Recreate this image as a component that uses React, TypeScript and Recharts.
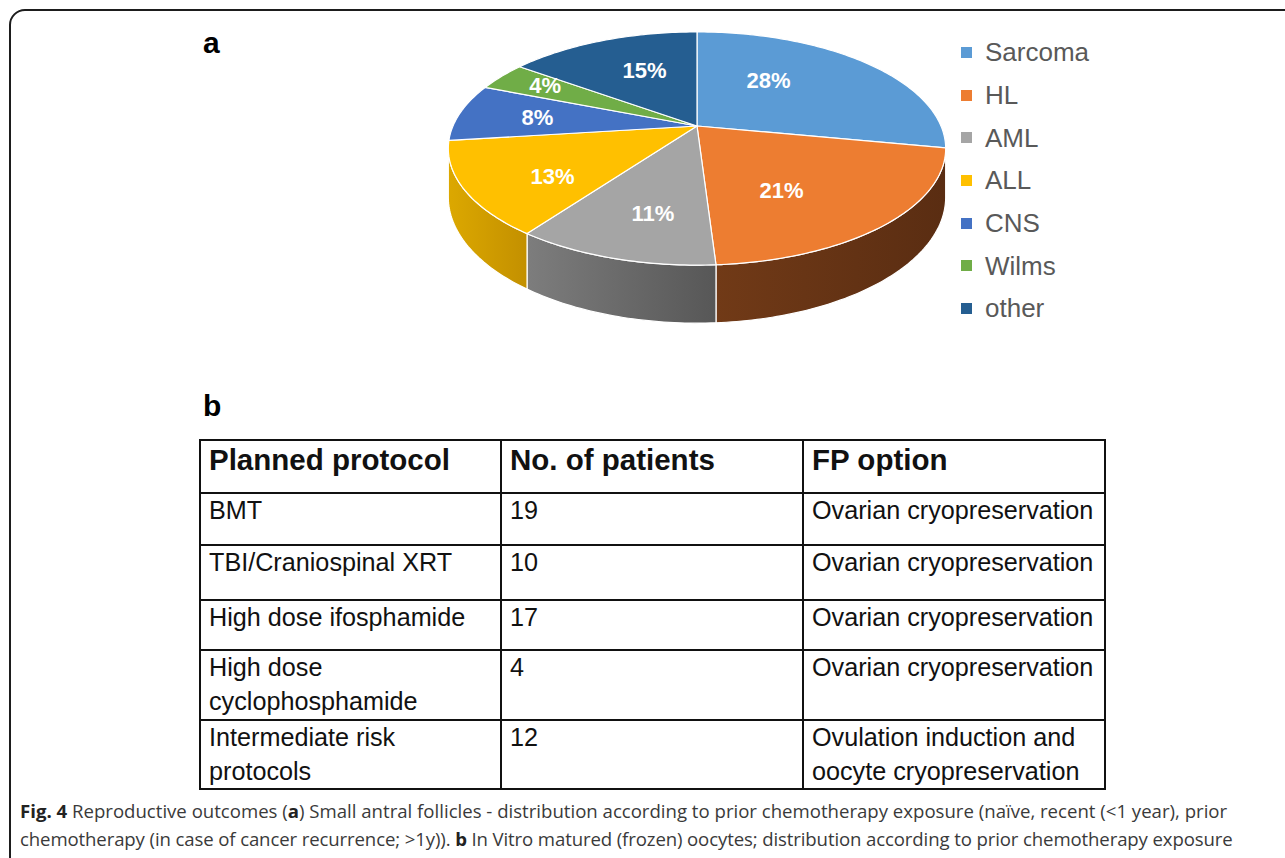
import React from 'react'
import { Cell, Legend, Pie, PieChart } from 'recharts'

// pie "a": share of patients by diagnosis (%)
const CATEGORIES = ['Sarcoma', 'HL', 'AML', 'ALL', 'CNS', 'Wilms', 'other']
const SHARES = [28, 21, 11, 13, 8, 4, 15]

// table "b"
const PROTOCOLS = [
  ['BMT'],
  ['TBI/Craniospinal XRT'],
  ['High dose ifosphamide'],
  ['High dose', 'cyclophosphamide'],
  ['Intermediate risk', 'protocols'],
]
const PATIENTS = [19, 10, 17, 4, 12]
const FP_OPTIONS = [
  ['Ovarian cryopreservation'],
  ['Ovarian cryopreservation'],
  ['Ovarian cryopreservation'],
  ['Ovarian cryopreservation'],
  ['Ovulation induction and', 'oocyte cryopreservation'],
]
const TABLE_HEAD = ['Planned protocol', 'No. of patients', 'FP option']

const TOP_COLORS = ['#5B9BD5', '#ED7D31', '#A5A5A5', '#FFC000', '#4472C4', '#70AD47', '#255E91']
const SIDE_COLORS: [string, string][] = [
  ['#3d6f9e', '#2f5a82'],
  ['#713a17', '#5a2d12'],
  ['#7d7d7d', '#575757'],
  ['#dca800', '#c39000'],
  ['#2f5596', '#244377'],
  ['#4f7d32', '#3e6428'],
  ['#1a4266', '#143453'],
]
// label placement tweaks (radius on the disk, angle shift in degrees), like Excel's best fit
const LABEL_FIT: [number, number][] = [
  [0.55, 15],
  [0.6, -10],
  [0.69, 3],
  [0.68, 6],
  [0.67, 0],
  [0.78, -2],
  [0.61, -4],
]

const pieData = CATEGORIES.map((name, i) => ({ name, value: SHARES[i] }))

const FONT = "'Liberation Sans', Arial, Helvetica, sans-serif"
const CX = 697
const CY = 126
const RADIUS = 244
const PERSPECTIVE = 0.193
const RY_RATIO = 0.46
const DEPTH_RATIO = 0.192
const RAD = Math.PI / 180

// perspective projection of a point on the (tilted) pie disk
function project(cx: number, cy: number, R: number, deg: number, r = 1) {
  const u = Math.cos(deg * RAD) * r
  const v = Math.sin(deg * RAD) * r
  const w = 1 + PERSPECTIVE * v
  return { x: cx + (R * u) / w, y: cy - (R * RY_RATIO * v) / w, w }
}

function arcPoints(cx: number, cy: number, R: number, from: number, to: number) {
  const pts = []
  const n = Math.max(2, Math.ceil(Math.abs(to - from)))
  for (let i = 0; i <= n; i++) pts.push(project(cx, cy, R, from + ((to - from) * i) / n))
  return pts
}

const sliceIndex = (props: any) => Math.max(0, CATEGORIES.indexOf(props.payload?.name ?? props.name))

const renderSlice = (props: any) => {
  const { cx, cy, outerRadius, startAngle, endAngle, fill } = props
  const idx = sliceIndex(props)
  const R = outerRadius
  const depth = R * DEPTH_RATIO
  const edge = Math.asin(PERSPECTIVE) / RAD
  const hi = Math.min(startAngle, -edge)
  const lo = Math.max(endAngle, -180 + edge)

  const top = arcPoints(cx, cy, R, startAngle, endAngle)
  const topPath =
    `M${cx},${cy} ` + top.map((p) => `L${p.x.toFixed(2)},${p.y.toFixed(2)}`).join(' ') + ' Z'

  let wallPath = ''
  if (lo < hi) {
    const rim = arcPoints(cx, cy, R, hi, lo)
    const bottom = rim
      .slice()
      .reverse()
      .map((p) => ({ x: p.x, y: p.y + depth / p.w }))
    wallPath =
      rim.map((p, i) => `${i ? 'L' : 'M'}${p.x.toFixed(2)},${p.y.toFixed(2)}`).join(' ') +
      ' ' +
      bottom.map((p) => `L${p.x.toFixed(2)},${p.y.toFixed(2)}`).join(' ') +
      ' Z'
  }
  const gid = `pie-side-${idx}`
  return (
    <g>
      <defs>
        <linearGradient id={gid} x1="0" y1="0" x2="1" y2="0">
          <stop offset="0%" stopColor={SIDE_COLORS[idx][0]} />
          <stop offset="100%" stopColor={SIDE_COLORS[idx][1]} />
        </linearGradient>
      </defs>
      {wallPath && <path d={wallPath} fill={`url(#${gid})`} stroke="#ffffff" strokeWidth={1.2} />}
      <path d={topPath} fill={fill} stroke="#ffffff" strokeWidth={1.2} strokeLinejoin="round" />
    </g>
  )
}

const renderLabel = (props: any) => {
  const { cx, cy, outerRadius, midAngle, percent } = props
  const [r, shift] = LABEL_FIT[sliceIndex(props)]
  const p = project(cx, cy, outerRadius, midAngle + shift, r)
  return (
    <text
      x={p.x}
      y={p.y + 1}
      fill="#ffffff"
      textAnchor="middle"
      dominantBaseline="central"
      style={{ fontFamily: FONT, fontSize: 22, fontWeight: 700 }}
    >
      {`${Math.round(percent * 100)}%`}
    </text>
  )
}

const renderLegend = (props: any) => {
  const payload = (props.payload ?? [])
    .slice()
    .sort((a: any, b: any) => CATEGORIES.indexOf(a.value) - CATEGORIES.indexOf(b.value))
  return (
    <div style={{ fontFamily: FONT }}>
      {payload.map((entry: any, i: number) => (
        <div key={i} style={{ display: 'flex', alignItems: 'center', height: 42.7 }}>
          <span style={{ width: 11, height: 11, background: entry.color, marginRight: 13, flexShrink: 0 }} />
          <span style={{ fontSize: 26, color: '#595959', lineHeight: '30px' }}>{entry.value}</span>
        </div>
      ))}
    </div>
  )
}

const COL_X = [200, 501, 803, 1105]
const ROW_H = [53, 52, 55, 50, 70, 68]

const cellStyle = (w: number, h: number): React.CSSProperties => ({
  width: w,
  height: h,
  border: '2px solid #111',
  padding: '0 0 0 8px',
  verticalAlign: 'top',
  boxSizing: 'border-box',
})

const App = () => {
  const widths = COL_X.slice(1).map((x, i) => x - COL_X[i])
  return (
    <div
      style={{
        position: 'fixed',
        left: 0,
        top: 0,
        width: 1285,
        height: 858,
        overflow: 'hidden',
        background: '#ffffff',
        fontFamily: FONT,
      }}
    >
      <div
        style={{
          position: 'absolute',
          left: 9,
          top: 9,
          width: 1400,
          height: 1000,
          border: '2px solid #1d1d1d',
          borderTopLeftRadius: 16,
        }}
      />
      <div style={{ position: 'absolute', left: 203, top: 26, fontSize: 30, fontWeight: 700, color: '#000' }}>a</div>

      <div style={{ position: 'absolute', left: 0, top: 0 }}>
        <PieChart width={1285} height={340} margin={{ top: 0, right: 0, bottom: 0, left: 0 }}>
          <Pie
            data={pieData}
            dataKey="value"
            nameKey="name"
            cx={CX}
            cy={CY}
            outerRadius={RADIUS}
            startAngle={90}
            endAngle={-270}
            stroke="none"
            isAnimationActive={false}
            shape={renderSlice}
            activeShape={renderSlice}
            inactiveShape={renderSlice}
            label={renderLabel}
            labelLine={false}
          >
            {pieData.map((d, i) => (
              <Cell key={d.name} fill={TOP_COLORS[i]} />
            ))}
          </Pie>
          <Legend
            layout="vertical"
            align="right"
            verticalAlign="top"
            content={renderLegend}
            wrapperStyle={{ left: 961, top: 31, width: 220, right: 'auto' }}
          />
        </PieChart>
      </div>

      <div style={{ position: 'absolute', left: 203, top: 389, fontSize: 30, fontWeight: 700, color: '#000' }}>b</div>

      <table
        style={{
          position: 'absolute',
          left: COL_X[0] - 1,
          top: 439,
          borderCollapse: 'collapse',
          tableLayout: 'fixed',
          color: '#111',
        }}
      >
        <tbody>
          <tr>
            {TABLE_HEAD.map((h, i) => (
              <td key={h} style={{ ...cellStyle(widths[i], ROW_H[0]), fontSize: 29.5, fontWeight: 700, lineHeight: '38px' }}>
                {h}
              </td>
            ))}
          </tr>
          {PROTOCOLS.map((lines, r) => (
            <tr key={r}>
              {[lines, [String(PATIENTS[r])], FP_OPTIONS[r]].map((cell, c) => (
                <td key={c} style={{ ...cellStyle(widths[c], ROW_H[r + 1]), fontSize: 25.2, lineHeight: '33.5px' }}>
                  {cell.map((t, k) => (
                    <div key={k} style={{ whiteSpace: 'nowrap' }}>{t}</div>
                  ))}
                </td>
              ))}
            </tr>
          ))}
        </tbody>
      </table>

      <div
        style={{
          position: 'absolute',
          left: 20,
          top: 797,
          fontFamily: "'Open Sans', sans-serif",
          fontSize: 18.6,
          lineHeight: '28px',
          color: '#3a3a3a',
          whiteSpace: 'nowrap',
        }}
      >
        <div>
          <b style={{ color: '#222' }}>Fig. 4</b> Reproductive outcomes (<b style={{ color: '#222' }}>a</b>) Small antral
          follicles - distribution according to prior chemotherapy exposure (naïve, recent (&lt;1 year), prior
        </div>
        <div style={{ letterSpacing: -0.12 }}>
          chemotherapy (in case of cancer recurrence; &gt;1y)). <b style={{ color: '#222' }}>b</b> In Vitro matured
          (frozen) oocytes; distribution according to prior chemotherapy exposure
        </div>
      </div>
    </div>
  )
}

export default App
